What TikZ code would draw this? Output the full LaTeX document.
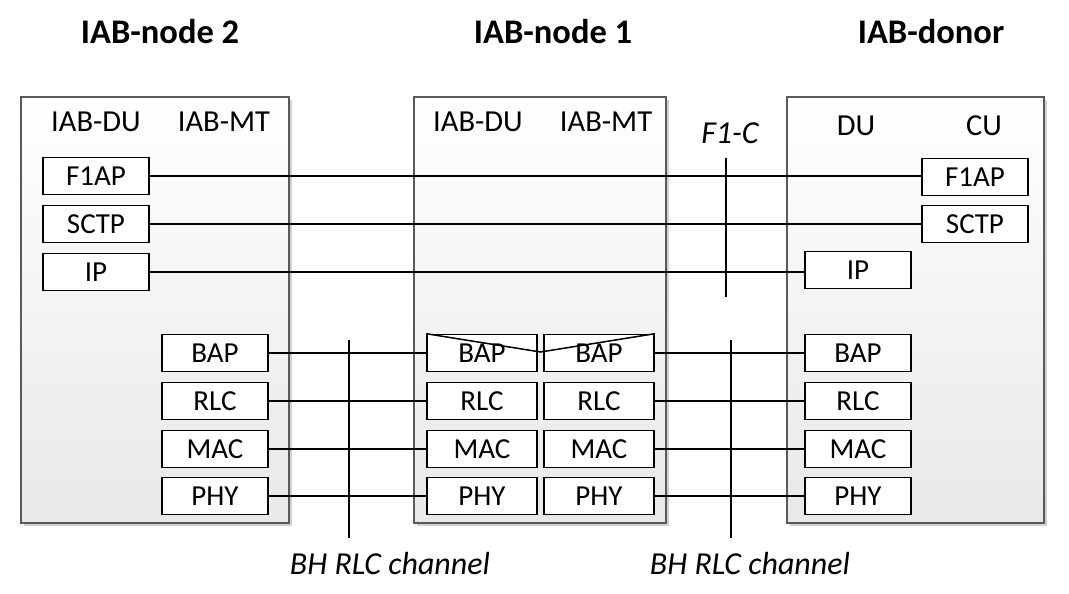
\documentclass[tikz,border=0pt]{standalone}
\usepackage{fontspec}
\setmainfont{Carlito}
\usetikzlibrary{shadows}
\begin{document}
\begin{tikzpicture}[x=1pt,y=-1pt,
  bigbox/.style={draw=black!65, line width=1.3pt, top color=white, bottom color=black!9,
    drop shadow={shadow xshift=3pt, shadow yshift=-3pt, opacity=0.18, fill=black}},
  layer/.style={draw, line width=1.6pt, fill=white, minimum height=37pt, inner sep=0pt,
    font=\fontsize{29}{30}\selectfont},
  lay/.style={layer, minimum width=106pt},
  layw/.style={layer, minimum width=110pt},
  title/.style={font=\fontsize{34.5}{38}\selectfont\bfseries},
  head/.style={font=\fontsize{30.5}{32}\selectfont},
  ital/.style={font=\fontsize{32}{34}\selectfont\itshape},
  conn/.style={line width=1.5pt}]
\useasboundingbox (0,0) rectangle (1069,594);
% big boxes
\node[bigbox, minimum width=268pt, minimum height=426pt, inner sep=0pt] (n2) at (155,310) {};
\node[bigbox, minimum width=252pt, minimum height=426pt, inner sep=0pt] (n1) at (540,310) {};
\node[bigbox, minimum width=257pt, minimum height=426pt, inner sep=0pt] (dn) at (915.5,310) {};
% titles
\node[title] (t2) at (160,32) {IAB-node 2};
\node[title] (t1) at (553,32) {IAB-node 1};
\node[title] (td) at (931,32) {IAB-donor};
% headers
\node[head] (h2a) at (96,122) {IAB-DU};
\node[head] (h2b) at (224,122) {IAB-MT};
\node[head] (h1a) at (478,122) {IAB-DU};
\node[head] (h1b) at (606,122) {IAB-MT};
\node[head] (hda) at (856,126) {DU};
\node[head] (hdb) at (984,126) {CU};
% upper layers
\node[lay] (lf1) at (96,176) {F1AP};
\node[lay] (lsc) at (96,224) {SCTP};
\node[lay] (lip) at (96,272) {IP};
\node[lay] (rf1) at (975,177) {F1AP};
\node[lay] (rsc) at (975,224) {SCTP};
\node[lay] (dip) at (858,270) {IP};
% lower stacks
\foreach \n/\t/\y in {bap/BAP/353, rlc/RLC/401, mac/MAC/449, phy/PHY/496}{
  \node[lay] (a\n) at (215,\y) {\t};
  \node[layw] (b\n) at (482,\y) {\t};
  \node[layw] (c\n) at (599,\y) {\t};
  \node[lay] (d\n) at (858,\y) {\t};
}
% BAP marks
\draw[line width=1.5pt] (bbap.north west) -- (540.5,352) -- (cbap.north east);
% connectors
\draw[conn] (lf1.east) -- (rf1.west |- lf1.east) -- (rf1.west);
\draw[conn] (lsc.east) -- (rsc.west);
\draw[conn] (lip.east) -- (dip.west |- lip.east);
\foreach \n in {bap,rlc,mac,phy}{
  \draw[conn] (a\n.east) -- (b\n.west);
  \draw[conn] (c\n.east) -- (d\n.west);
}
% reference points
\coordinate (f1top) at (726,158);
\coordinate (f1bot) at (726,297);
\coordinate (bh1top) at (349,340);
\coordinate (bh1bot) at (349,538);
\coordinate (bh2top) at (731,340);
\coordinate (bh2bot) at (731,538);
\draw[conn] (f1top) -- (f1bot);
\draw[conn] (bh1top) -- (bh1bot);
\draw[conn] (bh2top) -- (bh2bot);
\node[ital] (f1c) at (730,133) {F1-C};
\node[ital] (bhl1) at (390,563) {BH RLC channel};
\node[ital] (bhl2) at (750,563) {BH RLC channel};
\end{tikzpicture}
\end{document}
